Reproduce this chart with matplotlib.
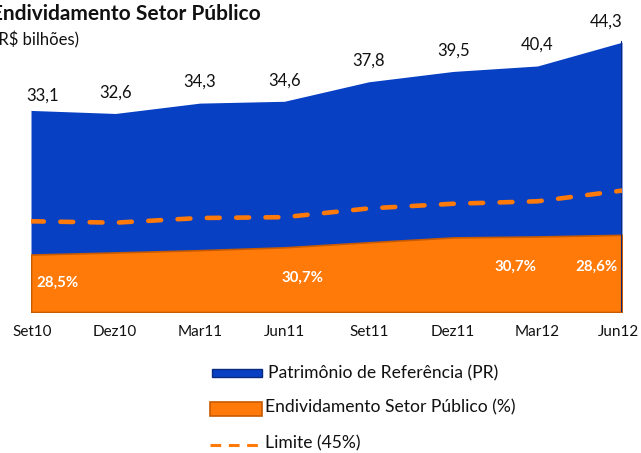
import numpy as np
import matplotlib
matplotlib.use("Agg")
import matplotlib.pyplot as plt
from matplotlib.patches import Rectangle
from matplotlib.lines import Line2D

plt.rcParams['font.family'] = ['Lato', 'DejaVu Sans']

# data (R$ bilhões and % of PR)
quarters = ["Set10", "Dez10", "Mar11", "Jun11", "Set11", "Dez11", "Mar12", "Jun12"]
pr = [33.1, 32.6, 34.3, 34.6, 37.8, 39.5, 40.4, 44.3]
endiv_pct = [28.5, 30.0, 29.6, 30.7, 30.3, 31.0, 30.7, 28.6]
limite_pct = 45.0

# which percent labels are shown, and where (index position, height in R$ bi)
pct_label_idx = [0, 3, 6, 7]
pct_label_x = [0.31, 3.21, 5.74, 6.70]
pct_label_y = [4.8, 5.6, 7.4, 7.4]

BLUE = "#0840C4"
ORANGE = "#FF7A08"

x = np.arange(len(quarters))
pr = np.array(pr)
endiv = pr * np.array(endiv_pct) / 100.0
limite = pr * limite_pct / 100.0

W, H = 641, 453
fig = plt.figure(figsize=(W / 100, H / 100), dpi=100)

# axes placed in pixel terms: left 31, right 622, bottom 312
ax = fig.add_axes([31 / W, 1 - 312 / H, (622 - 31) / W, 304.5 / H])
ax.set_xlim(0, len(quarters) - 1)
ax.set_ylim(0, 50)
ax.axis("off")

ax.fill_between(x, 0, pr, color=BLUE, lw=0)
ax.plot([x[-1], x[-1]], [0, pr[-1]], color="#0A2A80", lw=1.5)
ax.fill_between(x, 0, endiv, facecolor=ORANGE, edgecolor="#C85A00", lw=1.2)
ax.plot(x, limite, color=ORANGE, lw=3.3, dashes=(2.8, 3.6),
        dash_capstyle="round")

# value labels above PR
for i, v in enumerate(pr):
    dx = 0
    if i == 0:
        dx = 12
    elif i == len(pr) - 1:
        dx = -16
    yoff = 15 if i == 0 else 21
    ax.annotate(f"{v:.1f}".replace(".", ","), (x[i], v),
                xytext=(dx * 0.72, yoff * 0.72), textcoords="offset points",
                ha="center", va="center", fontsize=12, color="#111111")

# percentage labels inside orange area
for i, lx, ly in zip(pct_label_idx, pct_label_x, pct_label_y):
    ax.text(lx, ly, f"{endiv_pct[i]:.1f}%".replace(".", ","),
            ha="center", va="center", fontsize=10.8, fontweight="bold",
            color="white")

# x tick labels
tick_px = [32, 115, 200, 284, 369, 453, 537, 619]
for lbl, px in zip(quarters, tick_px):
    fig.text(px / W, 1 - 332 / H, lbl, ha="center", va="center",
             fontsize=11, color="#111111")

# title (clipped at the left edge, as in the original)
fig.text(-9 / W, 1 - 14 / H, "Endividamento Setor Público", ha="left",
         va="center", fontsize=15, fontweight="bold", color="#111111")
fig.text(-6 / W, 1 - 40 / H, "(R$ bilhões)", ha="left", va="center",
         fontsize=12, color="#111111")

# legend drawn by hand
fig.add_artist(Rectangle((212 / W, 1 - 377 / H), 50 / W, 8 / H,
                         facecolor=BLUE, edgecolor="#0A2A80", lw=1,
                         transform=fig.transFigure))
fig.text(268 / W, 1 - 373 / H, "Patrimônio de Referência (PR)",
         ha="left", va="center", fontsize=12.6, color="#111111")
fig.add_artist(Rectangle((210 / W, 1 - 416 / H), 52 / W, 14 / H,
                         facecolor=ORANGE, edgecolor="#C85A00", lw=1.2,
                         transform=fig.transFigure))
fig.text(265 / W, 1 - 407 / H, "Endividamento Setor Público (%)",
         ha="left", va="center", fontsize=12.6, color="#111111")
fig.add_artist(Line2D([210 / W, 262 / W], [1 - 445 / H, 1 - 445 / H],
                      color=ORANGE, lw=2.2, dashes=(3.5, 2.5),
                      transform=fig.transFigure))
fig.text(265 / W, 1 - 443 / H, "Limite (45%)",
         ha="left", va="center", fontsize=12.6, color="#111111")

fig.savefig("out.png", dpi=100)
